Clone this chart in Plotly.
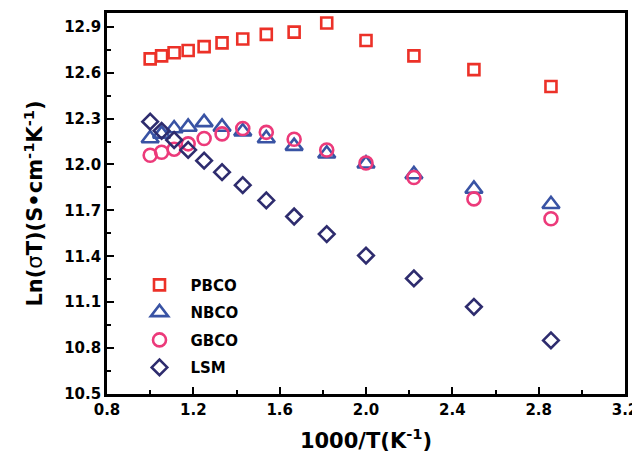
import plotly.graph_objects as go

x_vals = [1.000, 1.053, 1.111, 1.176, 1.250, 1.333, 1.429, 1.538, 1.667, 1.818, 2.000, 2.222, 2.500, 2.857]

pbco = [12.69, 12.71, 12.73, 12.745, 12.77, 12.795, 12.82, 12.85, 12.865, 12.925, 12.81, 12.71, 12.62, 12.51]
nbco = [12.17, 12.20, 12.235, 12.245, 12.275, 12.245, 12.215, 12.17, 12.12, 12.07, 12.005, 11.935, 11.84, 11.74]
gbco = [12.06, 12.08, 12.10, 12.135, 12.17, 12.20, 12.235, 12.21, 12.165, 12.095, 12.01, 11.915, 11.775, 11.645]
lsm = [12.28, 12.22, 12.16, 12.095, 12.025, 11.95, 11.865, 11.765, 11.66, 11.545, 11.405, 11.255, 11.07, 10.85]

series_names = ["PBCO", "NBCO", "GBCO", "LSM"]
series_vals = [pbco, nbco, gbco, lsm]
series_colors = ["#EC3128", "#3953A4", "#EC3A7A", "#2E2C6E"]
series_symbols = ["square-open", "triangle-up-open", "circle-open", "diamond-open"]
series_sizes = [11, 15, 13, 12]

x_ticks = [0.8, 1.2, 1.6, 2.0, 2.4, 2.8, 3.2]
y_ticks = [10.5, 10.8, 11.1, 11.4, 11.7, 12.0, 12.3, 12.6, 12.9]

fig = go.Figure()
for name, vals, col, sym, sz in zip(series_names, series_vals, series_colors, series_symbols, series_sizes):
    fig.add_trace(go.Scatter(
        x=x_vals, y=vals, mode="markers", name=name, legendgroup=name,
        marker=dict(symbol=sym, size=sz, color=col, line=dict(width=2.6, color=col)),
    ))

tick_font = dict(family="DejaVu Sans", size=15, color="black", weight="bold")
axis_common = dict(
    showline=True, linecolor="black", linewidth=2.6, mirror=True,
    ticks="inside", ticklen=7, tickwidth=2, tickcolor="black",
    showgrid=False, zeroline=False, tickfont=tick_font, automargin=False,
)

fig.update_xaxes(
    range=[0.8, 3.2], tickvals=x_ticks, ticktext=[f"{v:.1f}" for v in x_ticks],
    minor=dict(dtick=0.2, tick0=0.8, ticks="inside", ticklen=4, tickwidth=2, tickcolor="black"),
    title=dict(text="1000/T(K<sup>-1</sup>)", font=dict(family="DejaVu Sans", size=21, color="black", weight="bold"), standoff=16),
    **axis_common,
)
fig.update_yaxes(
    range=[10.5, 12.99], tickvals=y_ticks, ticktext=[f"{v:.1f}" for v in y_ticks],
    minor=dict(dtick=0.15, tick0=10.5, ticks="inside", ticklen=4, tickwidth=2, tickcolor="black"),
    title=dict(text="Ln(<span style='font-weight:normal'>σ</span>T)(S•cm<sup>-1</sup>K<sup>-1</sup>)",
               font=dict(family="DejaVu Sans", size=21, color="black", weight="bold"), standoff=16),
    **axis_common,
)

# the page body has an 8px margin, so the figure is sized and offset to compensate
fig.update_layout(
    width=632, height=450,
    margin=dict(l=99, r=15, t=5, b=64, autoexpand=False),
    plot_bgcolor="white", paper_bgcolor="white",
    legend=dict(
        x=0.0415, y=0.329, xanchor="left", yanchor="top",
        bgcolor="rgba(0,0,0,0)", borderwidth=0,
        font=dict(family="DejaVu Sans", size=15, color="black", weight="bold"),
        itemwidth=52, tracegroupgap=5,
    ),
)

fig.write_html("out.html")
